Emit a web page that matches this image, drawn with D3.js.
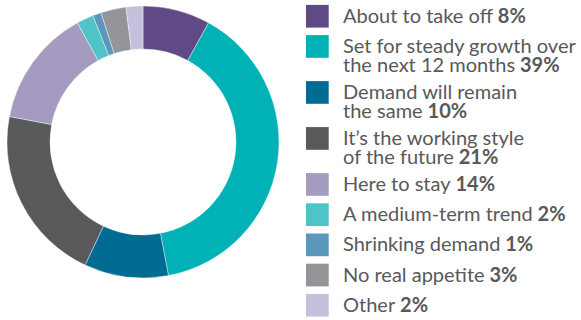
<!DOCTYPE html>
<html>
<head>
<meta charset="utf-8">
<script src="https://cdn.jsdelivr.net/npm/d3@7/dist/d3.min.js"></script>
<style>
  html, body { margin: 0; padding: 0; background: #fff; }
  svg { display: block; }
</style>
</head>
<body>
<svg id="chart" width="581" height="320"></svg>
<script>
// Survey responses: outlook for the working style
const categories = [
  "About to take off",
  "Set for steady growth over the next 12 months",
  "Demand will remain the same",
  "It\u2019s the working style of the future",
  "Here to stay",
  "A medium-term trend",
  "Shrinking demand",
  "No real appetite",
  "Other"
];
const values = [8, 39, 10, 21, 14, 2, 1, 3, 2];
// legend text, broken into lines
const legendLines = [
  ["About to take off"],
  ["Set for steady growth over", "the next 12 months"],
  ["Demand will remain", "the same"],
  ["It\u2019s the working style", "of the future"],
  ["Here to stay"],
  ["A medium-term trend"],
  ["Shrinking demand"],
  ["No real appetite"],
  ["Other"]
];
const colors = ["#604a85", "#00b1b5", "#006c94", "#58595b", "#a59bc0",
                "#4ec3c8", "#5b97bd", "#939598", "#c5c0dc"];

const data = categories.map((c, i) => ({ name: c, value: values[i], lines: legendLines[i] }));

const svg = d3.select("#chart");
const cx = 143, cy = 142, rOuter = 136, rInner = 93;

const color = d3.scaleOrdinal().domain(categories).range(colors);

const pie = d3.pie().value(d => d.value).sort(null);
const arc = d3.arc().innerRadius(rInner).outerRadius(rOuter);

svg.append("g")
  .attr("transform", `translate(${cx},${cy})`)
  .selectAll("path")
  .data(pie(data))
  .join("path")
  .attr("d", arc)
  .attr("fill", d => color(d.data.name))
  .attr("stroke", "#ffffff")
  .attr("stroke-width", 0.4);

// Legend
const fontFamily = "Lato, 'Open Sans', sans-serif";
const textColor = "#58595b";
const legendX = 306, textX = 343, sw = 22.7;
const lineH = 19.4, singleAdvance = 30.2, multiGap = 26.6;

// fit the font size so the longest line spans the legend column
const probe = svg.append("text").attr("font-family", fontFamily).attr("font-size", 20)
  .text("Set for steady growth over");
const probeW = probe.node().getComputedTextLength();
probe.remove();
const fontSize = 20 * 233 / probeW;

const legend = svg.append("g");
let baseline = 22.7;
data.forEach((d, i) => {
  const g = legend.append("g");
  g.append("rect")
    .attr("x", legendX).attr("y", baseline - 17.8)
    .attr("width", sw).attr("height", sw)
    .attr("fill", color(d.name));
  const t = g.append("text")
    .attr("font-family", fontFamily)
    .attr("font-size", fontSize)
    .attr("fill", textColor);
  d.lines.forEach((ln, j) => {
    t.append("tspan").attr("x", textX).attr("y", baseline + j * lineH).text(ln);
    if (j === d.lines.length - 1) {
      t.append("tspan").attr("font-weight", "bold").text(" " + d.value + "%");
    }
  });
  baseline += d.lines.length > 1 ? (d.lines.length - 1) * lineH + multiGap : singleAdvance;
});
</script>
</body>
</html>
